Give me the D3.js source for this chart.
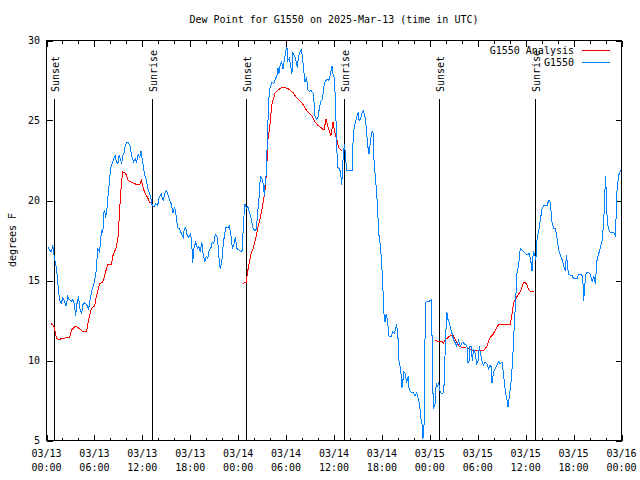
<!DOCTYPE html>
<html><head><meta charset="utf-8">
<script src="https://cdn.jsdelivr.net/npm/d3@7"></script>
<style>
body{margin:0;background:#fff}
svg text{font-family:"DejaVu Sans Mono","Liberation Mono",monospace;font-size:10px;fill:#000}
</style>
</head><body>
<svg id="chart" width="640" height="480"></svg>
<script>
// ---- DATA (hours after 2025-03-13 00:00 UTC, dew point in °F) ----
const titleText = "Dew Point for G1550 on 2025-Mar-13 (time in UTC)";
const yLabelText = "degrees F";
const seriesNames = ["G1550 Analysis", "G1550"];
const yTickValues = [5, 10, 15, 20, 25, 30];
const xTickHours = [0, 6, 12, 18, 24, 30, 36, 42, 48, 54, 60, 66, 72];
const xTickDates = ["03/13","03/13","03/13","03/13","03/14","03/14","03/14","03/14","03/15","03/15","03/15","03/15","03/16"];
const xTickTimes = ["00:00","06:00","12:00","18:00","00:00","06:00","12:00","18:00","00:00","06:00","12:00","18:00","00:00"];
const sunHours = [0.92, 13.21, 24.96, 37.29, 49.09, 61.21];
const sunLabels = ["Sunset", "Sunrise", "Sunset", "Sunrise", "Sunset", "Sunrise"];

const g1550 = [
[0.16,17.1],[0.38,16.9],[0.63,16.8],[0.79,17.2],[0.88,16.8],[1.00,16.4],[1.22,15.8],[1.32,15.4],[1.42,14.8],[1.63,13.8],
[1.84,13.6],[2.04,13.9],[2.26,13.7],[2.47,13.4],[2.67,14.0],[2.89,13.8],[3.10,13.7],[3.30,13.8],[3.51,13.5],[3.64,12.8],
[3.83,13.6],[4.01,14.0],[4.20,13.2],[4.39,12.9],[4.55,13.5],[4.77,13.6],[5.02,13.5],[5.27,13.2],[5.46,13.8],[5.68,14.4],
[5.90,14.7],[6.08,15.2],[6.23,15.6],[6.33,16.4],[6.44,17.0],[6.65,16.8],[6.77,17.5],[6.90,18.1],[7.06,18.0],[7.15,19.2],
[7.28,19.4],[7.40,18.9],[7.59,19.6],[7.69,20.2],[7.78,20.6],[7.90,21.3],[8.03,22.0],[8.22,22.3],[8.40,22.6],[8.59,22.8],
[8.78,22.4],[8.94,22.3],[9.09,22.8],[9.28,22.6],[9.41,22.3],[9.53,22.8],[9.72,23.0],[9.85,23.4],[10.04,23.6],[10.29,23.6],
[10.47,23.4],[10.66,22.8],[10.91,22.4],[11.10,22.6],[11.29,22.4],[11.48,22.9],[11.67,22.7],[11.85,23.1],[11.98,22.6],[12.11,22.2],
[12.29,21.6],[12.48,21.3],[12.67,20.8],[12.86,20.5],[13.05,20.2],[13.23,19.7],[13.42,19.6],[13.67,19.8],[13.92,19.7],[14.11,20.2],
[14.36,20.4],[14.61,20.0],[14.86,20.5],[15.05,20.6],[15.24,20.3],[15.43,20.0],[15.68,19.7],[15.81,19.2],[16.06,19.6],[16.24,19.0],
[16.43,18.3],[16.68,18.2],[16.93,17.9],[17.12,17.7],[17.25,18.2],[17.44,18.3],[17.62,17.8],[17.81,17.7],[18.06,17.9],[18.19,17.3],
[18.31,16.1],[18.44,17.0],[18.69,17.4],[18.88,17.0],[19.07,17.1],[19.26,16.8],[19.44,17.4],[19.63,16.6],[19.82,16.2],[20.01,16.5],
[20.20,16.4],[20.38,16.9],[20.57,17.0],[20.76,17.4],[20.95,17.3],[21.14,17.9],[21.32,17.8],[21.45,17.4],[21.58,16.5],[21.76,15.7],
[21.95,16.2],[22.08,17.0],[22.27,17.8],[22.45,18.3],[22.70,18.3],[22.89,18.4],[23.08,17.9],[23.27,17.0],[23.46,17.2],[23.65,17.7],
[23.83,17.0],[24.08,16.9],[24.34,16.8],[24.52,16.9],[24.65,18.5],[24.84,19.8],[25.03,19.5],[25.21,19.6],[25.46,19.2],[25.68,18.75],
[25.84,18.3],[26.09,18.1],[26.28,18.2],[26.43,19.2],[26.59,20.0],[26.78,21.5],[26.97,21.4],[27.16,21.0],[27.28,20.3],[27.41,21.4],
[27.53,21.6],[27.62,23.3],[27.72,24.8],[27.85,26.4],[27.97,27.0],[28.22,27.4],[28.47,27.3],[28.66,27.6],[28.85,27.8],[28.98,28.3],
[29.10,27.9],[29.23,28.4],[29.44,28.7],[29.60,28.2],[29.79,28.8],[29.98,29.4],[30.11,29.6],[30.23,28.75],[30.42,28.9],[30.61,28.3],
[30.73,27.9],[30.86,29.2],[31.11,29.0],[31.30,28.6],[31.42,28.3],[31.55,29.0],[31.74,29.3],[31.92,29.4],[32.05,29.0],[32.18,28.3],
[32.36,27.4],[32.55,27.7],[32.74,26.9],[32.93,26.8],[33.12,26.9],[33.37,26.7],[33.49,26.2],[33.62,25.3],[33.81,25.1],[33.99,25.2],
[34.18,25.8],[34.37,26.2],[34.56,26.3],[34.68,27.0],[34.87,27.4],[35.12,27.6],[35.37,27.5],[35.56,27.9],[35.75,28.4],[35.88,27.9],
[36.06,27.6],[36.19,26.0],[36.32,23.8],[36.44,22.1],[36.63,22.0],[36.82,21.8],[36.97,21.0],[37.07,22.0],[37.19,23.1],[37.32,23.5],
[37.44,22.8],[37.57,21.9],[37.76,21.9],[38.01,21.9],[38.26,21.9],[38.38,23.6],[38.51,24.5],[38.70,24.9],[38.89,25.3],[39.01,25.5],
[39.14,25.0],[39.33,25.1],[39.51,25.5],[39.70,25.6],[39.89,25.2],[40.08,24.4],[40.20,23.5],[40.39,22.9],[40.58,23.8],[40.77,24.3],
[40.89,24.2],[41.02,22.4],[41.21,21.3],[41.40,20.0],[41.52,18.8],[41.65,17.7],[41.83,17.1],[42.02,15.6],[42.15,14.2],[42.27,12.8],
[42.40,12.4],[42.52,12.9],[42.65,12.6],[42.78,12.1],[42.90,11.5],[43.15,11.5],[43.34,11.8],[43.59,11.7],[43.84,12.3],[44.03,11.3],
[44.16,9.7],[44.34,9.6],[44.49,8.3],[44.59,8.5],[44.72,9.3],[44.91,9.2],[45.10,8.6],[45.28,9.0],[45.41,8.2],[45.66,8.0],
[45.91,8.0],[46.16,7.8],[46.35,8.0],[46.54,7.6],[46.73,7.2],[46.91,6.3],[47.04,6.0],[47.13,5.1],[47.23,5.6],[47.35,6.6],
[47.42,13.6],[47.67,13.7],[47.92,13.7],[48.17,13.8],[48.26,12.0],[48.36,8.5],[48.46,7.0],[48.67,7.3],[48.80,8.6],[48.96,8.4],
[49.11,8.6],[49.30,8.0],[49.55,7.9],[49.74,8.0],[49.86,9.5],[49.95,11.3],[50.14,13.0],[50.24,12.6],[50.36,12.5],[50.55,12.1],
[50.77,11.7],[50.97,11.3],[51.18,11.1],[51.37,10.9],[51.59,11.25],[51.81,10.9],[52.02,11.1],[52.22,11.1],[52.43,11.0],[52.65,10.9],
[52.75,9.9],[52.90,9.9],[53.00,10.9],[53.19,10.9],[53.31,10.0],[53.48,10.7],[53.69,10.4],[53.88,9.8],[54.07,10.0],[54.19,10.9],
[54.32,10.5],[54.53,10.0],[54.69,9.7],[54.94,9.9],[55.16,9.8],[55.36,9.5],[55.51,9.7],[55.70,9.6],[55.78,8.6],[55.98,9.3],
[56.20,9.5],[56.41,9.7],[56.61,9.9],[56.82,9.8],[57.04,9.9],[57.24,9.1],[57.45,8.1],[57.64,7.6],[57.79,7.1],[57.99,7.9],
[58.20,8.8],[58.37,10.0],[58.49,11.4],[58.71,13.4],[58.92,15.5],[59.12,16.0],[59.33,17.0],[59.55,16.9],[59.75,16.8],[59.96,16.7],
[60.21,16.6],[60.46,16.7],[60.65,16.2],[60.80,15.6],[60.96,16.8],[61.15,16.6],[61.28,16.3],[61.43,17.6],[61.63,18.1],[61.84,18.8],
[62.06,19.5],[62.28,19.7],[62.47,19.7],[62.68,19.7],[62.88,20.0],[63.03,20.0],[63.16,19.4],[63.31,18.6],[63.51,18.25],[63.72,18.25],
[63.94,17.6],[64.14,16.9],[64.35,16.6],[64.56,16.3],[64.77,15.9],[64.98,15.6],[65.10,16.6],[65.32,15.6],[65.39,15.4],[65.61,15.3],
[65.82,15.3],[66.02,15.1],[66.45,15.1],[66.65,15.4],[66.86,15.4],[67.07,15.3],[67.17,14.9],[67.27,13.75],[67.40,14.7],[67.57,15.5],
[67.83,15.5],[68.11,15.4],[68.33,14.9],[68.53,15.3],[68.74,14.8],[68.84,15.7],[68.96,16.4],[69.16,16.7],[69.37,17.1],[69.58,17.5],
[69.78,18.75],[70.00,21.5],[70.08,20.6],[70.21,18.75],[70.37,18.2],[70.62,18.0],[71.04,18.0],[71.25,17.8],[71.34,19.3],[71.46,20.9],
[71.67,21.6],[71.88,21.9]
];

const analysisDay1 = [
[0.59,12.3],[0.88,12.2],[1.00,12.0],[1.25,11.4],[1.63,11.3],[1.88,11.4],[2.26,11.4],[2.89,11.45],[3.14,11.9],[3.51,12.1],
[3.76,12.1],[4.14,12.0],[4.52,11.8],[5.02,11.8],[5.18,12.3],[5.39,12.8],[5.64,13.25],[5.90,13.4],[6.02,13.4],[6.23,14.0],
[6.44,14.4],[6.65,14.8],[7.02,14.9],[7.28,15.3],[7.49,15.7],[7.65,16.0],[8.15,16.0],[8.28,16.5],[8.53,16.8],[8.74,17.1],
[8.94,17.6],[9.16,19.4],[9.37,21.0],[9.53,21.8],[9.78,21.75],[10.00,21.6],[10.16,21.3],[10.41,21.2],[10.79,21.1],[11.29,21.0],
[11.67,21.0],[11.88,21.25],[12.04,20.9],[12.29,20.5],[12.54,20.3],[12.73,20.1],[12.92,19.9],[13.17,19.9]
];
const analysisDay2 = [
[24.59,14.8],[25.03,14.9],[25.15,15.5],[25.28,15.8],[25.46,16.3],[25.68,16.8],[25.88,17.0],[26.09,17.4],[26.31,17.9],[26.47,18.3],
[26.72,18.8],[26.97,19.4],[27.16,20.0],[27.35,20.6],[27.47,21.25],[27.60,22.3],[27.72,23.75],[27.97,24.7],[28.22,26.0],[28.60,26.7],
[28.98,26.9],[29.60,27.1],[30.23,27.0],[30.86,26.75],[31.36,26.4],[31.99,26.1],[32.61,25.6],[33.24,25.3],[33.62,24.9],[33.99,24.7],
[34.50,24.5],[34.75,24.4],[35.00,25.1],[35.25,24.6],[35.62,24.06],[35.88,24.9],[36.13,24.2],[36.38,23.75],[36.57,23.3],[37.00,23.1]
];
const analysisDay3 = [
[48.67,11.25],[49.05,11.2],[49.51,11.2],[49.71,11.1],[49.93,11.3],[50.18,11.4],[50.55,11.55],[50.87,11.6],[51.18,11.3],[51.43,11.1],
[51.68,10.9],[52.06,10.8],[52.65,10.85],[52.85,10.75],[53.06,10.7],[53.31,10.6],[54.73,10.6],[54.94,10.75],[55.16,10.9],[55.36,11.25],
[55.57,11.45],[55.88,11.6],[56.20,11.9],[56.41,12.1],[56.61,12.25],[58.08,12.25],[58.29,12.9],[58.49,13.6],[58.71,13.8],[58.92,14.0],
[59.33,14.3],[59.55,14.6],[59.75,14.9],[59.96,14.9],[60.17,14.7],[60.38,14.45],[60.58,14.3],[61.00,14.3]
];

// ---- CHART ----
const t0 = Date.UTC(2025, 2, 13, 0, 0);
const toDate = h => new Date(t0 + h * 3600e3);
const W = 640, H = 480;
const L = 46.5, R = 621.5, T = 40.5, B = 440.5;
const svg = d3.select("#chart");
const x = d3.scaleUtc().domain([toDate(0), toDate(72)]).range([L, R]);
const y = d3.scaleLinear().domain([5, 30]).range([B, T]);

svg.append("rect").attr("width", W).attr("height", H).attr("fill", "#fff");

const g = svg.append("g").attr("shape-rendering", "crispEdges");

// minor x ticks every 2 hours
const minorHours = d3.range(0, 73, 2).filter(h => h % 6 !== 0);
minorHours.forEach(h => {
  const xx = Math.round(x(toDate(h))) + 0.5;
  g.append("line").attr("x1", xx).attr("x2", xx).attr("y1", B).attr("y2", B - 3).attr("stroke", "#000");
  g.append("line").attr("x1", xx).attr("x2", xx).attr("y1", T).attr("y2", T + 3).attr("stroke", "#000");
});
// major x ticks
xTickHours.forEach((h, i) => {
  const xx = Math.round(x(toDate(h))) + 0.5;
  g.append("line").attr("x1", xx).attr("x2", xx).attr("y1", B).attr("y2", B - 6).attr("stroke", "#000");
  g.append("line").attr("x1", xx).attr("x2", xx).attr("y1", T).attr("y2", T + 6).attr("stroke", "#000");
  const t = svg.append("text").attr("x", x(toDate(h))).attr("text-anchor", "middle");
  t.append("tspan").attr("x", x(toDate(h))).attr("y", 457).text(xTickDates[i]);
  t.append("tspan").attr("x", x(toDate(h))).attr("y", 471).text(xTickTimes[i]);
});
// y ticks
yTickValues.forEach(v => {
  const yy = Math.round(y(v)) + 0.5;
  g.append("line").attr("x1", L).attr("x2", L + 6).attr("y1", yy).attr("y2", yy).attr("stroke", "#000");
  g.append("line").attr("x1", R).attr("x2", R - 6).attr("y1", yy).attr("y2", yy).attr("stroke", "#000");
  svg.append("text").attr("x", 40).attr("y", y(v)).attr("dy", "0.35em").attr("text-anchor", "end").text(v);
});

// sunrise / sunset lines
sunHours.forEach((h, i) => {
  const xx = Math.round(x(toDate(h))) + 0.5;
  g.append("line").attr("x1", xx).attr("x2", xx).attr("y1", 99).attr("y2", B).attr("stroke", "#000");
  svg.append("text")
    .attr("transform", `translate(${xx + 1},92) rotate(-90)`)
    .attr("dy", "0.35em")
    .attr("text-anchor", "start")
    .text(sunLabels[i]);
});

// data lines (aliased, like the original bitmap plot)
const line = d3.line().x(d => x(toDate(d[0]))).y(d => y(d[1]));
[analysisDay1, analysisDay2, analysisDay3].forEach(seg => {
  svg.append("path").datum(seg).attr("d", line).attr("fill", "none")
    .attr("stroke", "#ff0000").attr("stroke-width", 1).attr("shape-rendering", "crispEdges");
});
svg.append("path").datum(g1550).attr("d", line).attr("fill", "none")
  .attr("stroke", "#0080ff").attr("stroke-width", 1).attr("shape-rendering", "crispEdges");

// border
g.append("rect").attr("x", L).attr("y", T).attr("width", R - L).attr("height", B - T)
  .attr("fill", "none").attr("stroke", "#000");

// legend
const legendColors = ["#ff0000", "#0080ff"];
seriesNames.forEach((name, i) => {
  const ly = 50 + i * 12;
  svg.append("text").attr("x", 574).attr("y", ly).attr("dy", "0.35em").attr("text-anchor", "end").text(name);
  g.append("line").attr("x1", 582).attr("x2", 610).attr("y1", ly + 0.5).attr("y2", ly + 0.5)
    .attr("stroke", legendColors[i]);
});

// title & y label
svg.append("text").attr("x", (L + R) / 2).attr("y", 19).attr("dy", "0.35em").attr("text-anchor", "middle").text(titleText);
svg.append("text").attr("transform", "translate(12,240) rotate(-90)").attr("dy", "0.35em")
  .attr("text-anchor", "middle").text(yLabelText);
</script>
</body></html>
